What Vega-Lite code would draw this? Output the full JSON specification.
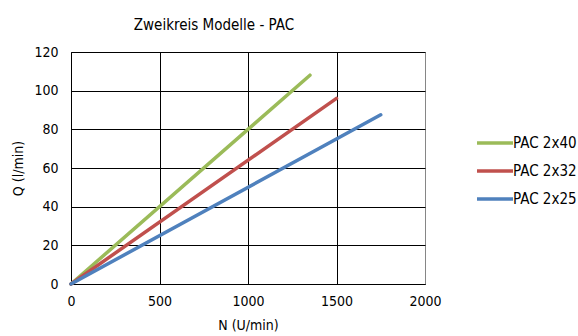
{
  "$schema": "https://vega.github.io/schema/vega-lite/v6.json",
  "width": 354,
  "height": 232,
  "autosize": {"type": "none"},
  "padding": {"left": 71, "top": 52, "right": 153, "bottom": 52},
  "background": "white",
  "title": {
    "text": "Zweikreis Modelle - PAC",
    "font": "DejaVu Sans Condensed",
    "fontSize": 15,
    "fontWeight": "normal",
    "color": "#000",
    "anchor": "middle",
    "dx": -34,
    "offset": 12
  },
  "data": {
    "values": [
      {"series": "PAC 2x40", "N": 0, "Q": 0},
      {"series": "PAC 2x40", "N": 1350, "Q": 108},
      {"series": "PAC 2x32", "N": 0, "Q": 0},
      {"series": "PAC 2x32", "N": 1500, "Q": 96},
      {"series": "PAC 2x25", "N": 0, "Q": 0},
      {"series": "PAC 2x25", "N": 1750, "Q": 87.5}
    ]
  },
  "config": {
    "view": {"stroke": "#868686", "strokeWidth": 1},
    "font": "DejaVu Sans Condensed",
    "axis": {
      "labelFont": "DejaVu Sans Condensed",
      "titleFont": "DejaVu Sans Condensed",
      "labelFontSize": 14,
      "titleFontSize": 14,
      "titleFontWeight": "normal",
      "labelColor": "#000",
      "titleColor": "#000",
      "domainColor": "#000",
      "domainWidth": 1,
      "gridColor": "#000",
      "gridWidth": 1,
      "gridOpacity": 1,
      "ticks": false
    },
    "legend": {
      "labelFont": "DejaVu Sans Condensed",
      "labelFontSize": 15,
      "labelColor": "#000"
    }
  },
  "mark": {"type": "line", "strokeWidth": 3.5, "strokeCap": "round"},
  "encoding": {
    "x": {
      "field": "N",
      "type": "quantitative",
      "title": "N (U/min)",
      "scale": {"domain": [0, 2000], "nice": false},
      "axis": {
        "values": [0, 500, 1000, 1500, 2000],
        "format": "d",
        "labelPadding": 10,
        "titlePadding": 10,
        "labelFlush": false,
        "gridColor": {"condition": {"test": "datum.value == 2000", "value": "#868686"}, "value": "#000"}
      }
    },
    "y": {
      "field": "Q",
      "type": "quantitative",
      "title": "Q (l/min)",
      "scale": {"domain": [0, 120], "nice": false},
      "axis": {
        "values": [0, 20, 40, 60, 80, 100, 120],
        "format": "d",
        "labelPadding": 13,
        "titlePadding": 8,
        "labelFlush": false
      }
    },
    "color": {
      "field": "series",
      "type": "nominal",
      "sort": ["PAC 2x40", "PAC 2x32", "PAC 2x25"],
      "scale": {
        "domain": ["PAC 2x40", "PAC 2x32", "PAC 2x25"],
        "range": ["#9BBB59", "#C0504D", "#4F81BD"]
      },
      "legend": {
        "title": null,
        "orient": "none",
        "legendX": 404,
        "legendY": 71,
        "padding": 0,
        "symbolType": "stroke",
        "symbolSize": 1296,
        "symbolStrokeWidth": 3.5,
        "labelOffset": -2,
        "rowPadding": -5
      }
    }
  }
}
